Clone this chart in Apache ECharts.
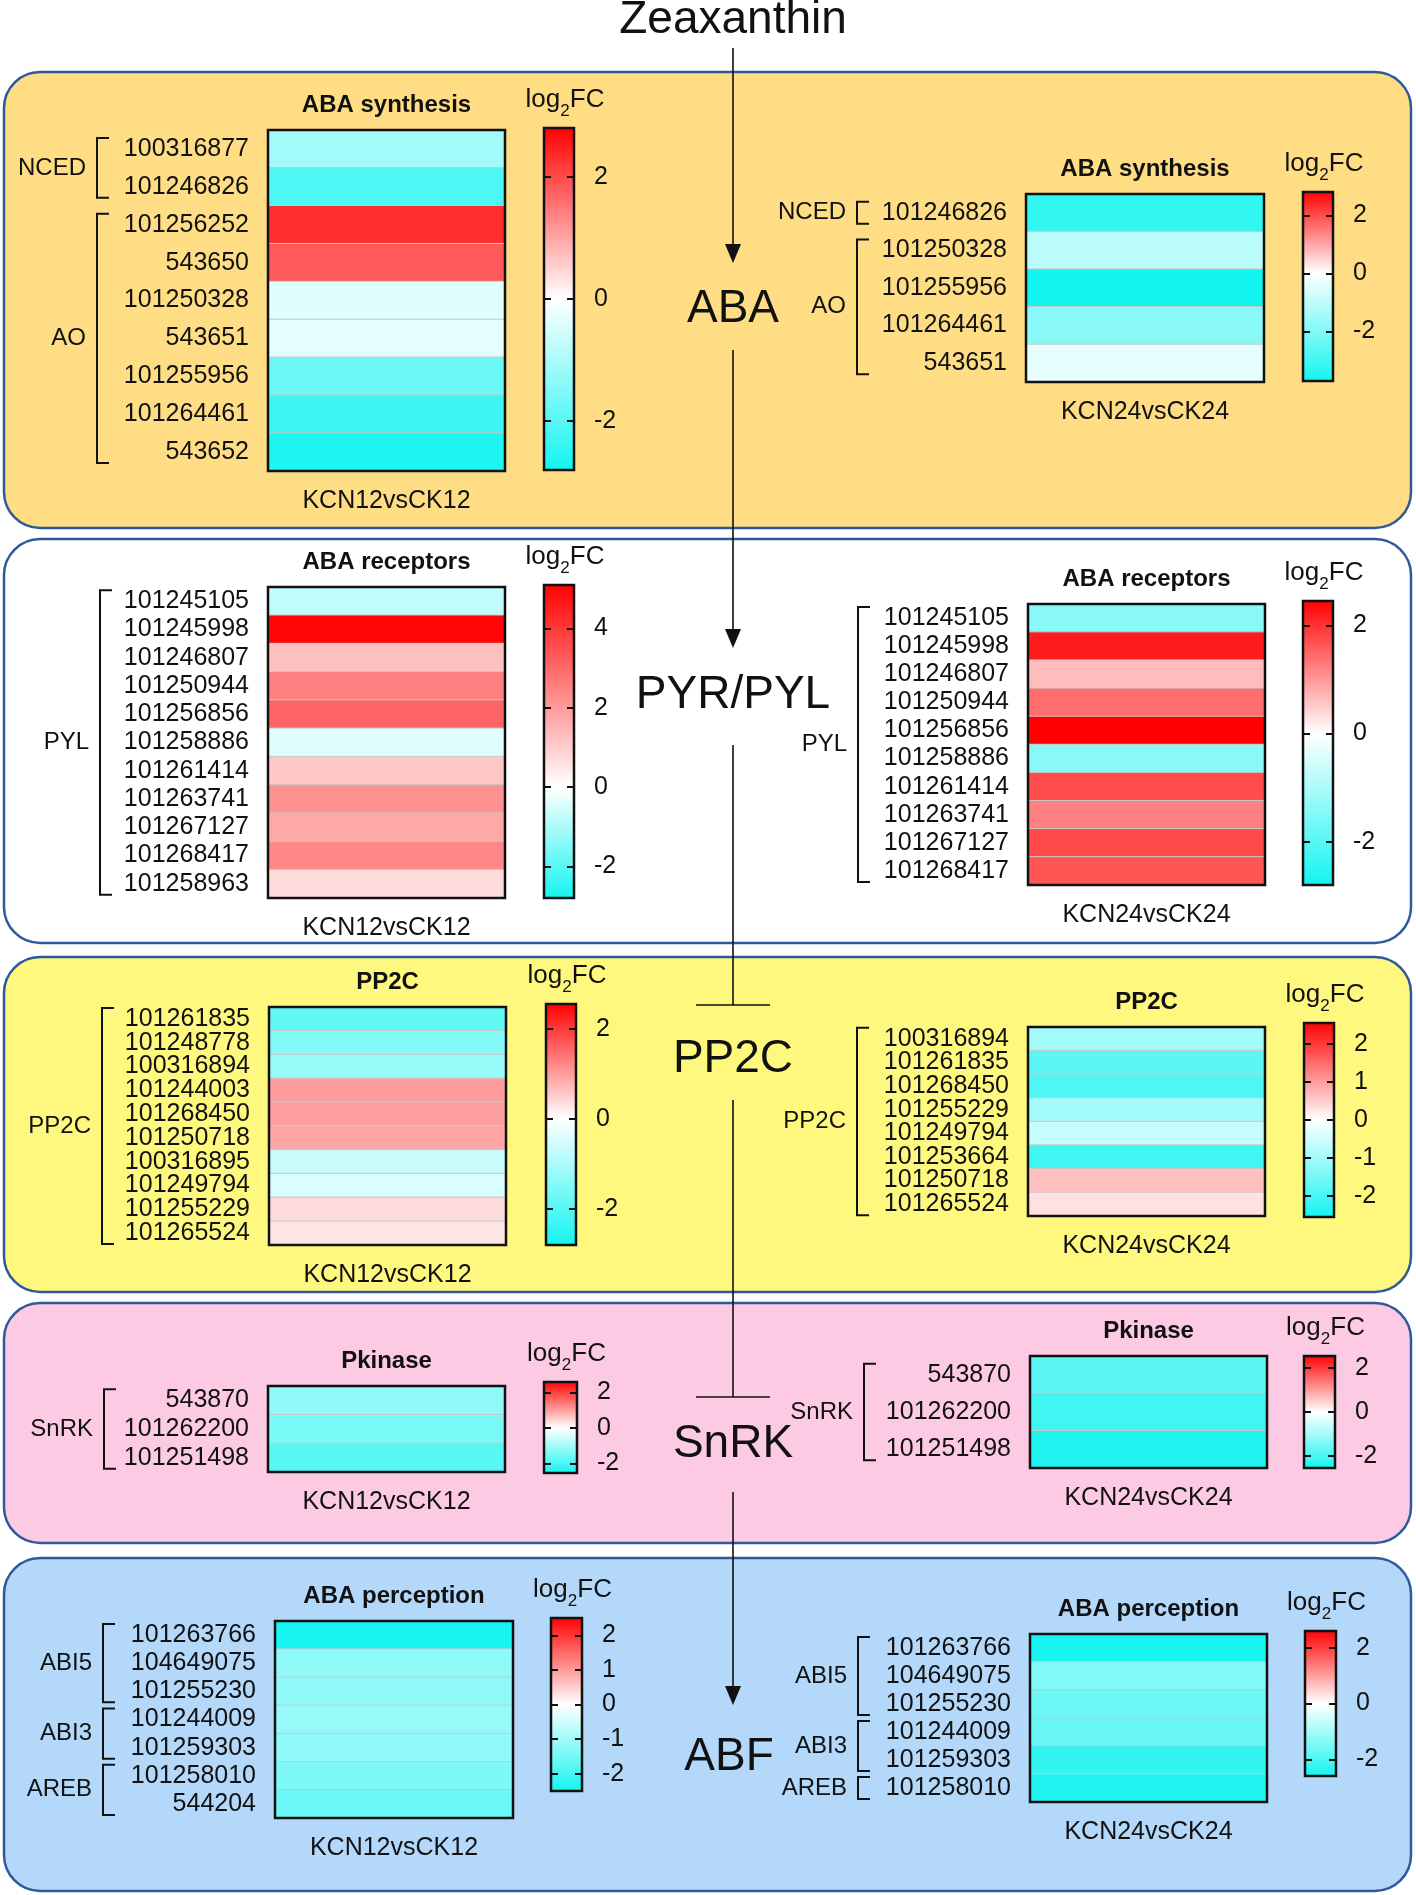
<!DOCTYPE html>
<html>
<head>
<meta charset="utf-8">
<title>ABA signalling heatmaps</title>
<script src="https://cdn.jsdelivr.net/npm/echarts@6/dist/echarts.min.js"></script>
<style>
html, body { margin: 0; padding: 0; background: #fff; }
#main { width: 1416px; height: 1895px; }
</style>
</head>
<body>
<div id="main"></div>
<script>
// ---------- data (log2FC) ----------
const synth12Genes = ['100316877', '101246826', '101256252', '543650', '101250328', '543651', '101255956', '101264461', '543652'];
const synth12Vals = [-1.1, -2.1, 2.3, 1.8, -0.37, -0.33, -1.75, -2.3, -2.65];
const synth12Scale = [-2.8, 2.8];
const synth12Ticks = [-2, 0, 2];
const synth12Groups = [['NCED', '100316877', '101246826'], ['AO', '101256252', '543652']];

const synth24Genes = ['101246826', '101250328', '101255956', '101264461', '543651'];
const synth24Vals = [-3.2, -1.1, -3.7, -1.85, -0.39];
const synth24Scale = [-3.7, 2.8];
const synth24Ticks = [-2, 0, 2];
const synth24Groups = [['NCED', '101246826', '101246826'], ['AO', '101250328', '543651']];

const recep12Genes = ['101245105', '101245998', '101246807', '101250944', '101256856', '101258886', '101261414', '101263741', '101267127', '101268417', '101258963'];
const recep12Vals = [-0.75, 5.0, 1.27, 2.55, 3.1, -0.37, 1.1, 2.2, 1.75, 2.4, 0.7];
const recep12Scale = [-2.8, 5.1];
const recep12Ticks = [-2, 0, 2, 4];
const recep12Groups = [['PYL', '101245105', '101258963']];

const recep24Genes = ['101245105', '101245998', '101246807', '101250944', '101256856', '101258886', '101261414', '101263741', '101267127', '101268417'];
const recep24Vals = [-1.4, 2.18, 0.64, 1.39, 2.45, -1.4, 1.72, 1.22, 1.76, 1.63];
const recep24Scale = [-2.8, 2.45];
const recep24Ticks = [-2, 0, 2];
const recep24Groups = [['PYL', '101245105', '101268417']];

const pp2c12Genes = ['101261835', '101248778', '100316894', '101244003', '101268450', '101250718', '100316895', '101249794', '101255229', '101265524'];
const pp2c12Vals = [-1.88, -1.5, -1.22, 0.99, 0.95, 0.88, -0.65, -0.41, 0.35, 0.25];
const pp2c12Scale = [-2.8, 2.55];
const pp2c12Ticks = [-2, 0, 2];
const pp2c12Groups = [['PP2C', '101261835', '101265524']];

const pp2c24Genes = ['100316894', '101261835', '101268450', '101255229', '101249794', '101253664', '101250718', '101265524'];
const pp2c24Vals = [-1.02, -1.75, -1.9, -1.0, -0.63, -2.05, 0.63, 0.3];
const pp2c24Scale = [-2.55, 2.55];
const pp2c24Ticks = [-2, -1, 0, 1, 2];
const pp2c24Groups = [['PP2C', '100316894', '101265524']];

const kin12Genes = ['543870', '101262200', '101251498'];
const kin12Vals = [-1.2, -1.45, -1.8];
const kin12Scale = [-2.55, 2.6];
const kin12Ticks = [-2, 0, 2];
const kin12Groups = [['SnRK', '543870', '101251498']];

const kin24Genes = ['543870', '101262200', '101251498'];
const kin24Vals = [-1.75, -2.05, -2.4];
const kin24Scale = [-2.55, 2.55];
const kin24Ticks = [-2, 0, 2];
const kin24Groups = [['SnRK', '543870', '101251498']];

const perc12Genes = ['101263766', '104649075', '101255230', '101244009', '101259303', '101258010', '544204'];
const perc12Vals = [-2.45, -1.18, -1.18, -1.1, -1.18, -1.35, -1.55];
const perc12Scale = [-2.5, 2.5];
const perc12Ticks = [-2, -1, 0, 1, 2];
const perc12Groups = [['ABI5', '101263766', '101255230'], ['ABI3', '101244009', '101259303'], ['AREB', '101258010', '544204']];

const perc24Genes = ['101263766', '104649075', '101255230', '101244009', '101259303', '101258010'];
const perc24Vals = [-2.55, -1.4, -1.6, -1.65, -2.25, -2.45];
const perc24Scale = [-2.6, 2.6];
const perc24Ticks = [-2, 0, 2];
const perc24Groups = [['ABI5', '101263766', '101255230'], ['ABI3', '101244009', '101259303'], ['AREB', '101258010', '101258010']];

const pathwayNodes = ['Zeaxanthin', 'ABA', 'PYR/PYL', 'PP2C', 'SnRK', 'ABF'];

// ---------- layout / style ----------
const FONT = "'Liberation Sans', Arial, Helvetica, sans-serif";
const INK = '#111';
const LOW = [18, 244, 240], MID = [255, 255, 255], HIGH = [255, 0, 0];

// background boxes: x, y, w, h, fill
const panelBoxes = [
  [4, 72, 1407, 456, '#FEDD84'],
  [4, 539, 1407, 404, '#FFFFFF'],
  [4, 957, 1407, 335, '#FFF87E'],
  [4, 1303, 1407, 240, '#FDCAE4'],
  [4, 1558, 1407, 333, '#B4D8FA']
];

const maps = [
  {genes: synth12Genes, vals: synth12Vals, scale: synth12Scale, ticks: synth12Ticks, groups: synth12Groups, title: 'ABA synthesis', comp: 'KCN12vsCK12', grid: [268, 130, 237, 341], bar: [544, 128, 30, 342], bx: 97},
  {genes: synth24Genes, vals: synth24Vals, scale: synth24Scale, ticks: synth24Ticks, groups: synth24Groups, title: 'ABA synthesis', comp: 'KCN24vsCK24', grid: [1026, 194, 238, 188], bar: [1303, 192, 30, 189], bx: 857},
  {genes: recep12Genes, vals: recep12Vals, scale: recep12Scale, ticks: recep12Ticks, groups: recep12Groups, title: 'ABA receptors', comp: 'KCN12vsCK12', grid: [268, 587, 237, 311], bar: [544, 585, 30, 313], bx: 100},
  {genes: recep24Genes, vals: recep24Vals, scale: recep24Scale, ticks: recep24Ticks, groups: recep24Groups, title: 'ABA receptors', comp: 'KCN24vsCK24', grid: [1028, 604, 237, 281], bar: [1303, 601, 30, 284], bx: 858},
  {genes: pp2c12Genes, vals: pp2c12Vals, scale: pp2c12Scale, ticks: pp2c12Ticks, groups: pp2c12Groups, title: 'PP2C', comp: 'KCN12vsCK12', grid: [269, 1007, 237, 238], bar: [546, 1004, 30, 241], bx: 102},
  {genes: pp2c24Genes, vals: pp2c24Vals, scale: pp2c24Scale, ticks: pp2c24Ticks, groups: pp2c24Groups, title: 'PP2C', comp: 'KCN24vsCK24', grid: [1028, 1027, 237, 189], bar: [1304, 1023, 30, 194], bx: 857},
  {genes: kin12Genes, vals: kin12Vals, scale: kin12Scale, ticks: kin12Ticks, groups: kin12Groups, title: 'Pkinase', comp: 'KCN12vsCK12', grid: [268, 1386, 237, 86], bar: [544, 1382, 33, 91], bx: 104},
  {genes: kin24Genes, vals: kin24Vals, scale: kin24Scale, ticks: kin24Ticks, groups: kin24Groups, title: 'Pkinase', comp: 'KCN24vsCK24', grid: [1030, 1356, 237, 112], bar: [1304, 1356, 31, 112], bx: 864},
  {genes: perc12Genes, vals: perc12Vals, scale: perc12Scale, ticks: perc12Ticks, groups: perc12Groups, title: 'ABA perception', comp: 'KCN12vsCK12', grid: [275, 1621, 238, 197], bar: [551, 1618, 31, 173], bx: 103},
  {genes: perc24Genes, vals: perc24Vals, scale: perc24Scale, ticks: perc24Ticks, groups: perc24Groups, title: 'ABA perception', comp: 'KCN24vsCK24', grid: [1030, 1634, 237, 168], bar: [1305, 1631, 31, 145], bx: 858}
];

// pathway: label positions and connectors (arrow / inhibition bar)
const pathX = 733;
const pathLabelY = [20, 309, 695, 1059, 1444, 1757];
const connectors = [[48, 263, 'arrow'], [350, 648, 'arrow'], [745, 1005, 'bar'], [1100, 1397, 'bar'], [1492, 1705, 'arrow']];

function mix(a, b, t) {
  return 'rgb(' + a.map((c, k) => Math.round(c + (b[k] - c) * t)).join(',') + ')';
}
function colorAt(v, lo, hi) {
  return v >= 0 ? mix(MID, HIGH, Math.min(1, v / hi)) : mix(MID, LOW, Math.min(1, v / lo));
}
function ramp(lo, hi, n) {
  const out = [];
  for (let k = 0; k < n; k++) out.push(colorAt(lo + (hi - lo) * k / (n - 1), lo, hi));
  return out;
}

const chart = echarts.init(document.getElementById('main'));

const grids = [], xAxes = [], yAxes = [], series = [], visualMaps = [];
maps.forEach((m, i) => {
  const lo = m.scale[0], hi = m.scale[1];
  const cols = ramp(lo, hi, 61);
  const barTick = {show: true, inside: true, length: 7, customValues: m.ticks, lineStyle: {color: INK, width: 2}};
  // heatmap grid
  grids.push({
    left: m.grid[0], top: m.grid[1], width: m.grid[2], height: m.grid[3],
    show: true, backgroundColor: 'transparent', borderColor: INK, borderWidth: 2.5, z: 5
  });
  // colour bar grid
  grids.push({
    left: m.bar[0], top: m.bar[1], width: m.bar[2], height: m.bar[3],
    show: true, borderColor: INK, borderWidth: 2.5,
    backgroundColor: {
      type: 'linear', x: 0, y: 0, x2: 0, y2: 1,
      colorStops: cols.slice().reverse().map((c, k) => ({offset: k / (cols.length - 1), color: c}))
    }
  });
  xAxes.push({
    type: 'category', gridIndex: 2 * i, data: [m.comp],
    axisLine: {show: false, onZero: false},
    axisTick: {alignWithLabel: true, interval: 0, length: 10, lineStyle: {color: INK, width: 2}},
    axisLabel: {interval: 0, margin: 18, fontSize: 25, color: INK, fontFamily: FONT},
    splitLine: {show: false}
  });
  xAxes.push({type: 'category', gridIndex: 2 * i + 1, show: false, data: ['bar']});
  yAxes.push({
    type: 'category', gridIndex: 2 * i, data: m.genes, inverse: true,
    axisLine: {show: false, onZero: false},
    axisTick: {alignWithLabel: true, interval: 0, length: 12, lineStyle: {color: INK, width: 2}},
    axisLabel: {interval: 0, margin: 19, fontSize: 25, color: INK, fontFamily: FONT},
    splitLine: {show: false}
  });
  yAxes.push({
    type: 'value', gridIndex: 2 * i + 1, position: 'right', min: lo, max: hi,
    axisLine: {show: false, onZero: false}, splitLine: {show: false},
    axisTick: barTick,
    axisLabel: {customValues: m.ticks, margin: 20, fontSize: 25, color: INK, fontFamily: FONT}
  });
  yAxes.push({
    type: 'value', gridIndex: 2 * i + 1, position: 'left', min: lo, max: hi,
    axisLine: {show: false, onZero: false}, splitLine: {show: false},
    axisTick: barTick,
    axisLabel: {show: false}
  });
  series.push({
    type: 'heatmap', name: m.title + ' ' + m.comp,
    xAxisIndex: 2 * i, yAxisIndex: 3 * i,
    data: m.vals.map((v, j) => [0, j, v]),
    itemStyle: {borderColor: '#C8C8C8', borderWidth: 1},
    emphasis: {disabled: true},
    silent: true
  });
  visualMaps.push({
    type: 'continuous', show: false, seriesIndex: i, min: lo, max: hi,
    inRange: {color: cols}
  });
});

chart.setOption({
  animation: false,
  backgroundColor: '#ffffff',
  textStyle: {fontFamily: FONT},
  grid: grids,
  xAxis: xAxes,
  yAxis: yAxes,
  visualMap: visualMaps,
  series: series
});

// ---------- decorations ----------
const els = [];
panelBoxes.forEach(b => {
  els.push({
    type: 'rect', z: -10, silent: true,
    shape: {x: b[0], y: b[1], width: b[2], height: b[3], r: 36},
    style: {fill: b[4], stroke: '#2E5A9C', lineWidth: 2.5}
  });
});

// pathway in the middle
pathwayNodes.forEach((t, k) => {
  els.push({
    type: 'text', z: 20, x: k === 5 ? pathX - 4 : pathX, y: pathLabelY[k],
    style: {text: t, fill: INK, font: '46px ' + FONT, align: 'center', verticalAlign: 'middle'}
  });
});
connectors.forEach(c => {
  const y1 = c[0], y2 = c[1];
  if (c[2] === 'arrow') {
    els.push({type: 'line', z: 20, shape: {x1: pathX, y1: y1, x2: pathX, y2: y2 - 16}, style: {stroke: INK, lineWidth: 1.6}});
    els.push({type: 'polygon', z: 20, shape: {points: [[pathX - 8, y2 - 19], [pathX + 8, y2 - 19], [pathX, y2]]}, style: {fill: INK}});
  } else {
    els.push({type: 'line', z: 20, shape: {x1: pathX, y1: y1, x2: pathX, y2: y2}, style: {stroke: INK, lineWidth: 1.6}});
    els.push({type: 'line', z: 20, shape: {x1: pathX - 37, y1: y2, x2: pathX + 37, y2: y2}, style: {stroke: INK, lineWidth: 1.6}});
  }
});

maps.forEach((m, i) => {
  const g = m.grid, b = m.bar;
  // heatmap title
  els.push({
    type: 'text', z: 20, x: g[0] + g[2] / 2, y: g[1] - 25,
    style: {text: m.title, fill: INK, font: 'bold 24px ' + FONT, align: 'center', verticalAlign: 'middle'}
  });
  // colour bar caption log2FC
  els.push({
    type: 'text', z: 20, x: b[0] + b[2] / 2 + 6, y: b[1] - 28,
    style: {
      text: '{a|log}{s|2}{a|FC}', align: 'center', verticalAlign: 'middle',
      rich: {
        a: {fontSize: 26, fontFamily: FONT, fill: INK, lineHeight: 40},
        s: {fontSize: 17, fontFamily: FONT, fill: INK, lineHeight: 17, verticalAlign: 'bottom'}
      }
    }
  });
  // gene group brackets
  m.groups.forEach(gr => {
    const yTop = chart.convertToPixel({yAxisIndex: 3 * i}, m.genes.indexOf(gr[1])) - 11;
    const yBot = chart.convertToPixel({yAxisIndex: 3 * i}, m.genes.indexOf(gr[2])) + 11;
    els.push({
      type: 'polyline', z: 20,
      shape: {points: [[m.bx + 12, yTop], [m.bx, yTop], [m.bx, yBot], [m.bx + 12, yBot]]},
      style: {stroke: INK, lineWidth: 2, fill: null}
    });
    els.push({
      type: 'text', z: 20, x: m.bx - 11, y: (yTop + yBot) / 2,
      style: {text: gr[0], fill: INK, font: '24px ' + FONT, align: 'right', verticalAlign: 'middle'}
    });
  });
});

chart.setOption({graphic: {elements: els}});
</script>
</body>
</html>
